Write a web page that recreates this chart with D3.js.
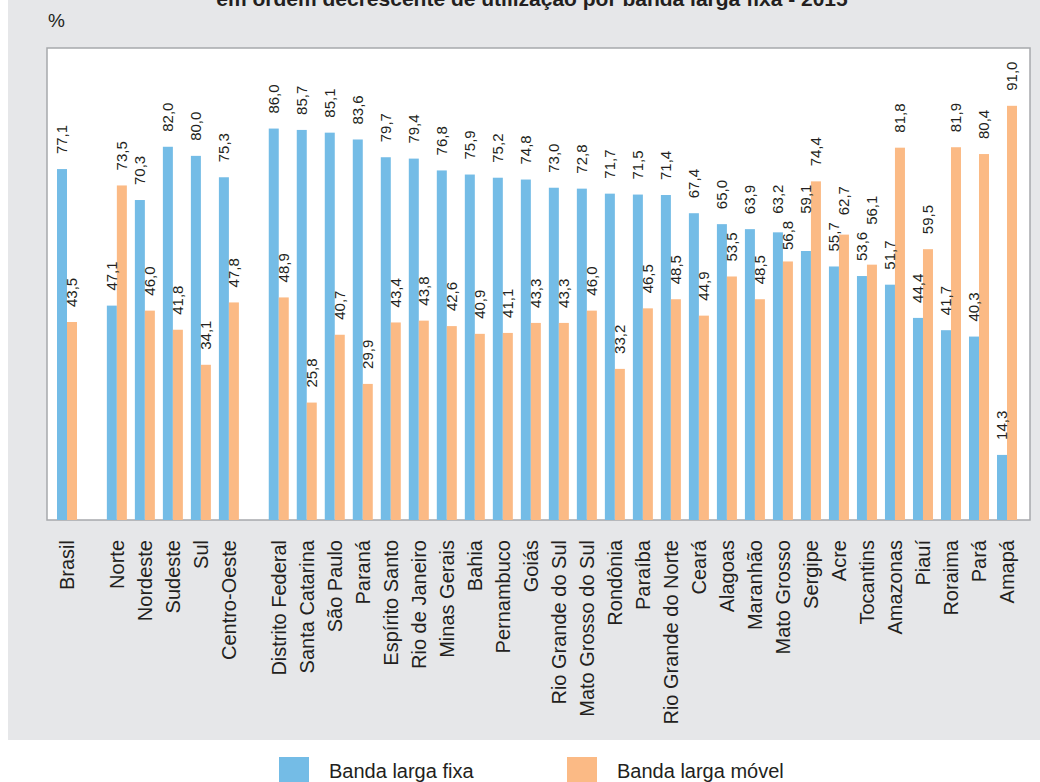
<!DOCTYPE html>
<html>
<head>
<meta charset="utf-8">
<script src="https://cdn.jsdelivr.net/npm/d3@7/dist/d3.min.js"></script>
<style>
  html, body { margin: 0; padding: 0; background: #ffffff; }
  svg { display: block; font-family: "Liberation Sans", Arial, Helvetica, sans-serif; }
</style>
</head>
<body>
<svg id="chart" width="1040" height="782"></svg>
<script>
// ---------------- DATA ----------------
const titleText = "em ordem decrescente de utilização por banda larga fixa - 2015";
const unitLabel = "%";
const seriesNames = ["Banda larga fixa", "Banda larga móvel"];

const groupBrasil = ["Brasil"];
const groupRegioes = ["Norte", "Nordeste", "Sudeste", "Sul", "Centro-Oeste"];
const groupEstados = ["Distrito Federal", "Santa Catarina", "São Paulo", "Paraná", "Espírito Santo",
  "Rio de Janeiro", "Minas Gerais", "Bahia", "Pernambuco", "Goiás", "Rio Grande do Sul",
  "Mato Grosso do Sul", "Rondônia", "Paraíba", "Rio Grande do Norte", "Ceará", "Alagoas",
  "Maranhão", "Mato Grosso", "Sergipe", "Acre", "Tocantins", "Amazonas", "Piauí", "Roraima",
  "Pará", "Amapá"];

const fixaValues = [77.1,
  47.1, 70.3, 82.0, 80.0, 75.3,
  86.0, 85.7, 85.1, 83.6, 79.7, 79.4, 76.8, 75.9, 75.2, 74.8, 73.0, 72.8, 71.7, 71.5, 71.4,
  67.4, 65.0, 63.9, 63.2, 59.1, 55.7, 53.6, 51.7, 44.4, 41.7, 40.3, 14.3];
const movelValues = [43.5,
  73.5, 46.0, 41.8, 34.1, 47.8,
  48.9, 25.8, 40.7, 29.9, 43.4, 43.8, 42.6, 40.9, 41.1, 43.3, 43.3, 46.0, 33.2, 46.5, 48.5,
  44.9, 53.5, 48.5, 56.8, 74.4, 62.7, 56.1, 81.8, 59.5, 81.9, 80.4, 91.0];

// ---------------- LAYOUT ----------------
const COLORS = ["#74BCE6", "#FBBA85"];
const svg = d3.select("#chart");
const W = 1040, H = 782;
const plot = { x: 47, y: 48, w: 983, h: 472 };
const groupGap = 1.78;   // extra slots between groups
const barW = 10;

// build categories with slot positions
const groups = [groupBrasil, groupRegioes, groupEstados];
const cats = [];
let slot = 0, idx = 0;
groups.forEach((g, gi) => {
  if (gi > 0) slot += groupGap - 1;
  g.forEach(name => {
    cats.push({ name, slot, fixa: fixaValues[idx], movel: movelValues[idx], group: gi });
    slot += 1; idx += 1;
  });
});
const lastSlot = cats[cats.length - 1].slot;

const x = d3.scaleLinear().domain([0, lastSlot]).range([57, 997]);
const y = d3.scaleLinear().domain([0, 103.7]).range([plot.y + plot.h, plot.y]);

// background panel
svg.append("rect").attr("x", 8).attr("y", 0).attr("width", W - 8).attr("height", 740)
  .attr("fill", "#E6E7E9");

// title (partly outside the view)
svg.append("text").attr("x", 532).attr("y", 6).attr("text-anchor", "middle")
  .attr("font-size", 21).attr("font-weight", "bold").attr("fill", "#231F20")
  .text(titleText);

// unit
svg.append("text").attr("x", 48).attr("y", 27).attr("font-size", 19).attr("fill", "#231F20")
  .text(unitLabel);

// plot area
svg.append("rect").attr("x", plot.x).attr("y", plot.y).attr("width", plot.w).attr("height", plot.h)
  .attr("fill", "#ffffff").attr("stroke", "#A7A9AC").attr("stroke-width", 1.5);

// bars
const gBars = svg.append("g");
const fmt = v => d3.format(".1f")(v).replace(".", ",");
const labels = [];
cats.forEach(c => {
  [c.fixa, c.movel].forEach((v, si) => {
    const bx = x(c.slot) + si * barW;
    gBars.append("rect")
      .attr("x", bx).attr("y", y(v)).attr("width", barW).attr("height", y(0) - y(v))
      .attr("fill", COLORS[si]);
    labels.push({ v, cx: bx + barW / 2, group: c.group, cat: c.name, si });
  });
});

// value labels with simple collision avoidance
const gLab = svg.append("g");
labels.forEach(l => {
  l.node = gLab.append("text")
    .attr("font-size", 15).attr("fill", "#231F20")
    .attr("text-anchor", "start").attr("dy", "0.35em")
    .text(fmt(l.v));
  l.len = l.node.node().getComputedTextLength();
  l.end = y(l.v) - 15;      // bottom of rotated text (screen y)
  l.top = l.end - l.len;
});
const pad = 7;
for (let i = 1; i < labels.length; i++) {
  const a = labels[i - 1], b = labels[i];
  if (a.group !== b.group) continue;
  const dx = b.cx - a.cx;
  if (dx > 20) continue;
  const overlap = (a.top < b.end + pad) && (b.top < a.end + pad);
  if (!overlap) continue;
  if (b.v >= a.v) {
    b.end = a.top - pad; b.top = b.end - b.len;
  } else if (dx < 14) {
    const need = (b.end + pad) - a.top > 0 && (a.end + pad) - b.top > 0 ? (a.end + pad) - b.top : 0;
    a.end -= need / 2; a.top -= need / 2;
    b.end += need / 2; b.top += need / 2;
  }
}
labels.forEach(l => {
  l.node.attr("transform", `translate(${l.cx},${l.end}) rotate(-90)`);
});

// category labels
const gCat = svg.append("g");
cats.forEach(c => {
  gCat.append("text")
    .attr("transform", `translate(${x(c.slot) + barW},540) rotate(-90)`)
    .attr("text-anchor", "end").attr("dy", "0.35em")
    .attr("font-size", 20).attr("fill", "#231F20")
    .text(c.name);
});

// legend
const legendX = [279, 567];
seriesNames.forEach((s, i) => {
  svg.append("rect").attr("x", legendX[i]).attr("y", 757).attr("width", 30).attr("height", 30)
    .attr("fill", COLORS[i]);
  svg.append("text").attr("x", legendX[i] + 50).attr("y", 778)
    .attr("font-size", 20).attr("fill", "#231F20").text(s);
});
</script>
</body>
</html>
